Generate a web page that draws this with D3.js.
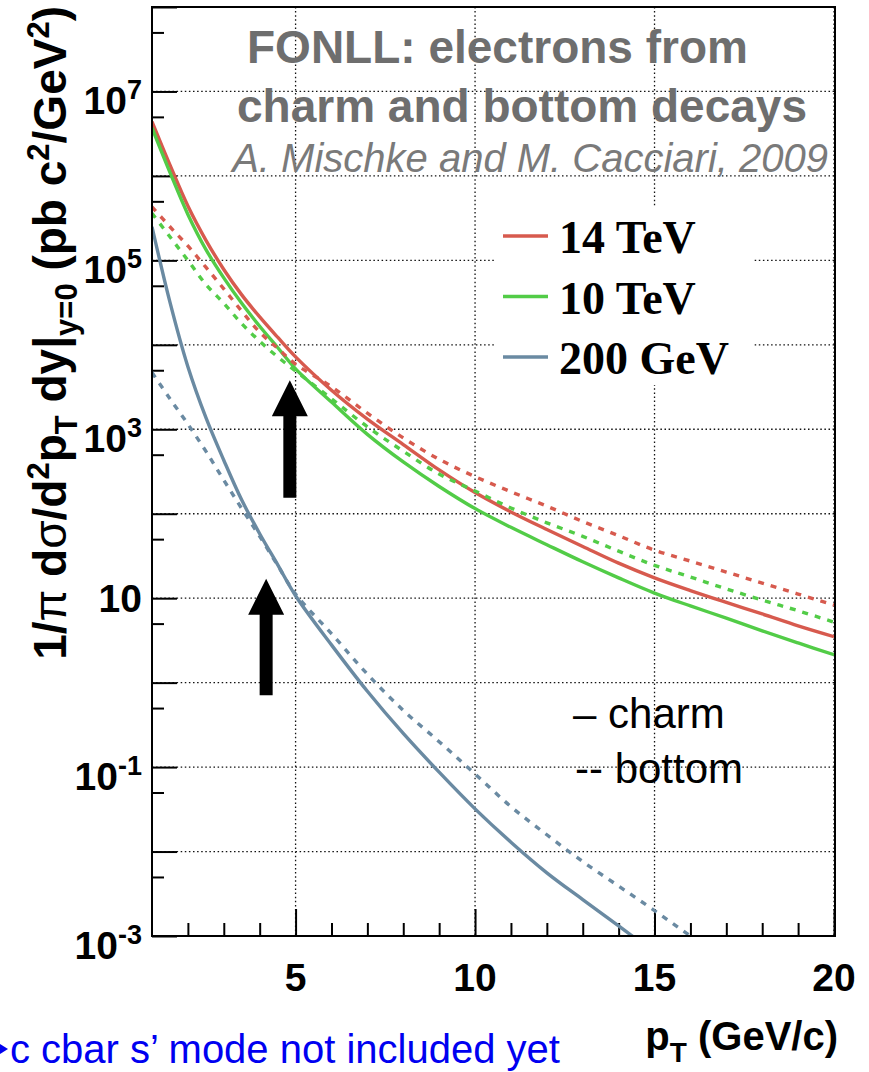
<!DOCTYPE html>
<html>
<head>
<meta charset="utf-8">
<script src="https://cdn.jsdelivr.net/npm/d3@7"></script>
<style>
  body { margin: 0; background: #fff; }
  svg { display: block; }
</style>
</head>
<body>
<svg id="chart" width="869" height="1072"></svg>
<script>
// pT grid (GeV/c)
const pT = [1, 1.5, 2, 2.5, 3, 3.5, 4, 4.5, 5, 6, 7, 8, 9, 10, 11, 12, 13, 14, 15, 16, 17, 18, 19, 20];

// 1/pi dsigma/d2pT dy (pb c^2/GeV^2)
const charm14 = [4.4e6, 1.35e6, 4.4e5, 1.74e5, 7.8e4, 3.9e4, 2.14e4, 1.23e4, 7.2e3, 2.9e3, 1.32e3, 660, 330, 178, 105, 65, 41, 26, 17.4, 12.3, 8.9, 6.5, 4.7, 3.5];
const bottom14 = [4.3e5, 2.5e5, 1.48e5, 8.3e4, 4.6e4, 2.5e4, 1.41e4, 9.1e3, 5.9e3, 3.2e3, 1.55e3, 790, 440, 275, 182, 123, 81, 55, 37, 27.5, 20.4, 15.1, 11.2, 8.3];
const charm10 = [3.7e6, 1.1e6, 3.5e5, 1.35e5, 6.2e4, 3.1e4, 1.66e4, 9.3e3, 5.2e3, 2.1e3, 870, 410, 210, 115, 69, 43, 27, 17.4, 11.5, 8.1, 5.8, 4.1, 2.95, 2.14];
const bottom10 = [3.6e5, 1.9e5, 1.0e5, 5.2e4, 3.1e4, 1.78e4, 1.1e4, 7.2e3, 4.9e3, 2.3e3, 1.07e3, 550, 295, 186, 117, 78, 54, 36, 24.5, 17.8, 12.9, 9.5, 7.1, 5.2];
const charm200 = [2.5e5, 3.2e4, 5.5e3, 1.38e3, 430, 145, 58, 25, 10.7, 2.8, 0.79, 0.25, 0.087, 0.032, 0.0129, 5.6e-3, 2.7e-3, 1.32e-3, 6.3e-4, null, null, null, null, null];
const bottom200 = [4.7e3, 2.3e3, 1.15e3, 550, 250, 115, 54, 24.5, 11.2, 3.8, 1.26, 0.47, 0.2, 0.083, 0.034, 0.0158, 7.6e-3, 3.9e-3, 2.0e-3, 1.0e-3, 5e-4, null, null, null];

const energies = ["14 TeV", "10 TeV", "200 GeV"];
const energyColors = ["#d75a4e", "#52cc47", "#6a8aa2"];

// arrows: pT position, tip value, tail value
const arrowPT = [4.84, 4.18];
const arrowTip = [3.8e3, 17];
const arrowTail = [155, 0.71];

const yLabelExps = [7, 5, 3, 1, -1, -3];
const xLabels = [5, 10, 15, 20];

(function() {
  const series = [
    { values: charm14, color: energyColors[0], dashed: false },
    { values: charm10, color: energyColors[1], dashed: false },
    { values: bottom14, color: energyColors[0], dashed: true },
    { values: bottom10, color: energyColors[1], dashed: true },
    { values: charm200, color: energyColors[2], dashed: false },
    { values: bottom200, color: energyColors[2], dashed: true }
  ];

  const svg = d3.select("#chart");
  const x0 = 152, x1 = 834, y0 = 7, y1 = 936;

  const x = d3.scaleLinear().domain([1, 20]).range([x0, x1]);
  const y = d3.scaleLog().domain([1e-3, 1e8]).range([y1, y0]);

  const decades = d3.range(-3, 9).map(e => Math.pow(10, e));
  const fives = d3.range(-3, 8).map(e => 5 * Math.pow(10, e));
  const gridDecades = d3.range(-2, 8).map(e => Math.pow(10, e));
  const minorX = d3.range(2, 20).filter(v => v % 5 !== 0);

  svg.append("defs").append("clipPath").attr("id", "plotclip")
    .append("rect").attr("x", x0).attr("y", y0)
    .attr("width", x1 - x0).attr("height", y1 - y0);

  // grid
  const grid = svg.append("g").attr("stroke", "#111").attr("stroke-width", 1.3)
    .attr("stroke-dasharray", "1.5,2.6");
  grid.selectAll(".gh").data(gridDecades).enter().append("line")
    .attr("x1", x0).attr("x2", x1)
    .attr("y1", d => y(d)).attr("y2", d => y(d));
  grid.selectAll(".gv").data(xLabels).enter().append("line")
    .attr("x1", d => x(d)).attr("x2", d => x(d))
    .attr("y1", y0).attr("y2", y1);

  // legend background hides the grid
  svg.append("rect").attr("x", 495).attr("y", 207)
    .attr("width", 258).attr("height", 178).attr("fill", "#fff");

  // axis ticks
  function clean(g) {
    g.select(".domain").remove();
    g.selectAll("line").attr("stroke", "#000").attr("stroke-width", 2);
  }
  svg.append("g").attr("transform", `translate(${x0},0)`)
    .call(d3.axisRight(y).tickValues(decades).tickSize(25).tickFormat(""))
    .call(clean);
  svg.append("g").attr("transform", `translate(${x0},0)`)
    .call(d3.axisRight(y).tickValues(fives).tickSize(12).tickFormat(""))
    .call(clean);
  svg.append("g").attr("transform", `translate(0,${y1})`)
    .call(d3.axisTop(x).tickValues(xLabels).tickSize(27).tickFormat(""))
    .call(clean);
  svg.append("g").attr("transform", `translate(0,${y1})`)
    .call(d3.axisTop(x).tickValues(minorX).tickSize(13).tickFormat(""))
    .call(clean);

  // curves
  const line = d3.line()
    .defined(d => d[1] != null)
    .x(d => x(d[0])).y(d => y(d[1]))
    .curve(d3.curveCatmullRom.alpha(0.5));

  const curves = svg.append("g").attr("clip-path", "url(#plotclip)");
  series.forEach(s => {
    curves.append("path")
      .attr("d", line(pT.map((p, i) => [p, s.values[i]])))
      .attr("fill", "none")
      .attr("stroke", s.color)
      .attr("stroke-width", 3.4)
      .attr("stroke-dasharray", s.dashed ? "6,7" : null);
  });

  // arrows
  arrowPT.forEach((p, i) => {
    const cx = x(p), yt = y(arrowTip[i]), yb = y(arrowTail[i]);
    const hh = 36, hw = 18, sw = 6.5;
    svg.append("path")
      .attr("d", `M${cx},${yt} L${cx + hw},${yt + hh} L${cx + sw},${yt + hh} L${cx + sw},${yb} L${cx - sw},${yb} L${cx - sw},${yt + hh} L${cx - hw},${yt + hh} Z`)
      .attr("fill", "#000");
  });

  // frame
  svg.append("rect").attr("x", x0).attr("y", y0)
    .attr("width", x1 - x0 + 1).attr("height", y1 - y0)
    .attr("fill", "none").attr("stroke", "#000").attr("stroke-width", 2);

  const sans = "'Liberation Sans', Arial, Helvetica, sans-serif";
  const serif = "'Liberation Serif', 'Times New Roman', serif";

  // y tick labels
  const yl = svg.append("g").attr("font-family", sans).attr("font-weight", "bold")
    .attr("font-size", 39).attr("text-anchor", "end").attr("fill", "#000");
  yLabelExps.forEach(e => {
    const ty = y(Math.pow(10, e));
    const t = yl.append("text").attr("x", 142).attr("y", e === 1 ? ty + 14 : ty + 23);
    t.append("tspan").text("10");
    if (e !== 1) t.append("tspan").attr("font-size", 27).attr("dy", -15).text(String(e));
  });

  // x tick labels
  svg.append("g").attr("font-family", sans).attr("font-weight", "bold")
    .attr("font-size", 39).attr("text-anchor", "middle")
    .selectAll("text").data(xLabels).enter().append("text")
    .attr("x", d => x(d)).attr("y", 991).text(d => d);

  // x title
  const xt = svg.append("text").attr("font-family", sans).attr("font-weight", "bold")
    .attr("font-size", 40).attr("text-anchor", "end").attr("x", 838).attr("y", 1050);
  xt.append("tspan").text("p");
  xt.append("tspan").attr("font-size", 28).attr("dy", 12).text("T");
  xt.append("tspan").attr("dy", -12).text(" (GeV/c)");

  // y title
  const ytt = svg.append("text").attr("font-family", sans).attr("font-weight", "bold")
    .attr("font-size", 46).attr("text-anchor", "end")
    .attr("transform", "translate(66,6) rotate(-90)");
  ytt.append("tspan").text("1/");
  ytt.append("tspan").attr("font-weight", "normal").text("π");
  ytt.append("tspan").text(" d");
  ytt.append("tspan").attr("font-weight", "normal").text("σ");
  ytt.append("tspan").text("/d");
  ytt.append("tspan").attr("font-size", 31).attr("dy", -17).text("2");
  ytt.append("tspan").attr("dy", 17).text("p");
  ytt.append("tspan").attr("font-size", 31).attr("dy", 11).text("T");
  ytt.append("tspan").attr("dy", -11).text(" dy|");
  ytt.append("tspan").attr("font-size", 31).attr("dy", 11).text("y=0");
  ytt.append("tspan").attr("dy", -11).text(" (pb c");
  ytt.append("tspan").attr("font-size", 31).attr("dy", -17).text("2");
  ytt.append("tspan").attr("dy", 17).text("/GeV");
  ytt.append("tspan").attr("font-size", 31).attr("dy", -17).text("2");
  ytt.append("tspan").attr("dy", 17).text(")");

  // title block
  const title = svg.append("g").attr("font-family", sans).attr("fill", "#6e6e6e");
  title.append("text").attr("x", 247).attr("y", 63).attr("font-weight", "bold")
    .attr("font-size", 46).text("FONLL: electrons from");
  title.append("text").attr("x", 237).attr("y", 122).attr("font-weight", "bold")
    .attr("font-size", 46).text("charm and bottom decays");
  title.append("text").attr("x", 828).attr("y", 172).attr("text-anchor", "end")
    .attr("font-style", "italic").attr("fill", "#7a7a7a")
    .attr("font-size", 40).text("A. Mischke and M. Cacciari, 2009");

  // energy legend
  const legend = svg.append("g");
  energies.forEach((name, i) => {
    const ly = 236 + i * 60.5;
    legend.append("line").attr("x1", 503).attr("x2", 548).attr("y1", ly).attr("y2", ly)
      .attr("stroke", energyColors[i]).attr("stroke-width", 3.4);
    legend.append("text").attr("x", 559).attr("y", ly + 17)
      .attr("font-family", serif).attr("font-weight", "bold").attr("font-size", 46)
      .text(name);
  });

  // line style note
  const note = svg.append("g").attr("font-family", sans).attr("font-size", 42).attr("fill", "#000");
  note.append("text").attr("x", 573).attr("y", 728).text("\u2013 charm");
  note.append("text").attr("x", 575).attr("y", 783).text("-- bottom");

  // footnote (the arrow of the original is cut at the page edge)
  const foot = svg.append("g").attr("fill", "#0000f0");
  foot.append("path").attr("d", "M0,1044 L8,1049 L0,1054 Z");
  foot.append("text").attr("x", 10).attr("y", 1063)
    .attr("font-family", sans).attr("font-size", 40)
    .text("c cbar s\u2019 mode not included yet");
})();
</script>
</body>
</html>
